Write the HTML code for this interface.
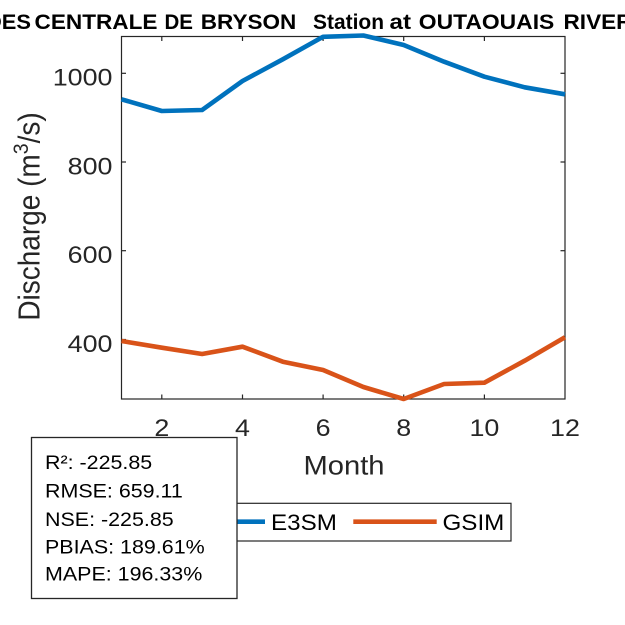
<!DOCTYPE html>
<html>
<head>
<meta charset="utf-8">
<style>
  html, body { margin: 0; padding: 0; background: #ffffff; }
  svg { display: block; }
  text { font-family: "Liberation Sans", Arial, sans-serif; }
</style>
</head>
<body>
<svg width="625" height="625" viewBox="0 0 625 625" xmlns="http://www.w3.org/2000/svg">
  <rect x="0" y="0" width="625" height="625" fill="#ffffff"/>

  <!-- Title -->
  <g font-weight="bold" font-size="21.5" fill="#000000">
    <text x="-14" y="29" textLength="45" lengthAdjust="spacingAndGlyphs">DES</text>
    <text x="34.5" y="29" textLength="123" lengthAdjust="spacingAndGlyphs">CENTRALE</text>
    <text x="164.5" y="29" textLength="28.5" lengthAdjust="spacingAndGlyphs">DE</text>
    <text x="200.8" y="29" textLength="95.5" lengthAdjust="spacingAndGlyphs">BRYSON</text>
    <text x="313" y="29" textLength="71" lengthAdjust="spacingAndGlyphs">Station</text>
    <text x="389.5" y="29" textLength="21.5" lengthAdjust="spacingAndGlyphs">at</text>
    <text x="418.8" y="29" textLength="135.5" lengthAdjust="spacingAndGlyphs">OUTAOUAIS</text>
    <text x="563.5" y="29" textLength="69" lengthAdjust="spacingAndGlyphs">RIVER</text>
  </g>

  <!-- Axes frame -->
  <rect x="121.5" y="36.5" width="443.5" height="362.5" fill="#ffffff" stroke="#262626" stroke-width="1.2"/>

  <!-- Ticks -->
  <g stroke="#262626" stroke-width="1.2">
    <line x1="161.8" y1="399" x2="161.8" y2="394.5"/>
    <line x1="242.5" y1="399" x2="242.5" y2="394.5"/>
    <line x1="323.1" y1="399" x2="323.1" y2="394.5"/>
    <line x1="403.7" y1="399" x2="403.7" y2="394.5"/>
    <line x1="484.4" y1="399" x2="484.4" y2="394.5"/>
    <line x1="161.8" y1="36.5" x2="161.8" y2="41"/>
    <line x1="242.5" y1="36.5" x2="242.5" y2="41"/>
    <line x1="323.1" y1="36.5" x2="323.1" y2="41"/>
    <line x1="403.7" y1="36.5" x2="403.7" y2="41"/>
    <line x1="484.4" y1="36.5" x2="484.4" y2="41"/>
    <line x1="121.5" y1="73.3" x2="126" y2="73.3"/>
    <line x1="121.5" y1="162" x2="126" y2="162"/>
    <line x1="121.5" y1="250.7" x2="126" y2="250.7"/>
    <line x1="121.5" y1="339.5" x2="126" y2="339.5"/>
    <line x1="565" y1="73.3" x2="560.5" y2="73.3"/>
    <line x1="565" y1="162" x2="560.5" y2="162"/>
    <line x1="565" y1="250.7" x2="560.5" y2="250.7"/>
    <line x1="565" y1="339.5" x2="560.5" y2="339.5"/>
  </g>

  <!-- Y tick labels -->
  <g font-size="24" fill="#262626" text-anchor="end">
    <text transform="translate(112.5,85.7) scale(1.12,1)">1000</text>
    <text transform="translate(112.5,174.4) scale(1.12,1)">800</text>
    <text transform="translate(112.5,263.1) scale(1.12,1)">600</text>
    <text transform="translate(112.5,351.9) scale(1.12,1)">400</text>
  </g>

  <!-- X tick labels -->
  <g font-size="24" fill="#262626" text-anchor="middle">
    <text transform="translate(161.8,436) scale(1.12,1)">2</text>
    <text transform="translate(242.5,436) scale(1.12,1)">4</text>
    <text transform="translate(323.1,436) scale(1.12,1)">6</text>
    <text transform="translate(403.7,436) scale(1.12,1)">8</text>
    <text transform="translate(484.4,436) scale(1.12,1)">10</text>
    <text transform="translate(565,436) scale(1.12,1)">12</text>
  </g>

  <!-- X label -->
  <text transform="translate(344,474.3) scale(1.08,1)" font-size="27" fill="#262626" text-anchor="middle">Month</text>

  <!-- Y label -->
  <text transform="translate(39.5,216.5) scale(1.1,1) rotate(-90)" font-size="28" fill="#262626" text-anchor="middle">Discharge (m<tspan dy="-10.5" font-size="19.5">3</tspan><tspan dy="10.5">/s)</tspan></text>

  <!-- Data series -->
  <polyline fill="none" stroke="#0072BD" stroke-width="4.6" stroke-linejoin="round"
    points="121.5,99.3 161.8,111 202.1,110 242.5,81 282.8,59.3 323.1,36.8 363.4,35.5 403.7,45 444.1,61.7 484.4,76.7 524.7,87.3 565,94.3"/>
  <polyline fill="none" stroke="#D95319" stroke-width="4.6" stroke-linejoin="round"
    points="121.5,341 161.8,347.7 202.1,354 242.5,346.7 282.8,361.7 323.1,370 363.4,387 403.7,399 444.1,384 484.4,382.7 524.7,360.7 565,337.3"/>

  <!-- Legend -->
  <rect x="172" y="503.3" width="339" height="37.7" fill="#ffffff" stroke="#262626" stroke-width="1.2"/>
  <line x1="182" y1="521.7" x2="265" y2="521.7" stroke="#0072BD" stroke-width="4.6"/>
  <text transform="translate(271,530) scale(1.1,1)" font-size="22" fill="#000000">E3SM</text>
  <line x1="353.3" y1="521.7" x2="436.7" y2="521.7" stroke="#D95319" stroke-width="4.6"/>
  <text transform="translate(442.5,530) scale(1.1,1)" font-size="22" fill="#000000">GSIM</text>

  <!-- Stats box -->
  <rect x="31.5" y="437.5" width="205.5" height="161" fill="#ffffff" stroke="#262626" stroke-width="1.3"/>
  <g font-size="19.5" fill="#000000">
    <text transform="translate(45,469) scale(1.1,1)">R²: -225.85</text>
    <text transform="translate(45,497.7) scale(1.1,1)">RMSE: 659.11</text>
    <text transform="translate(45,526) scale(1.1,1)">NSE: -225.85</text>
    <text transform="translate(45,553.3) scale(1.1,1)">PBIAS: 189.61%</text>
    <text transform="translate(45,580.7) scale(1.1,1)">MAPE: 196.33%</text>
  </g>
</svg>
</body>
</html>
